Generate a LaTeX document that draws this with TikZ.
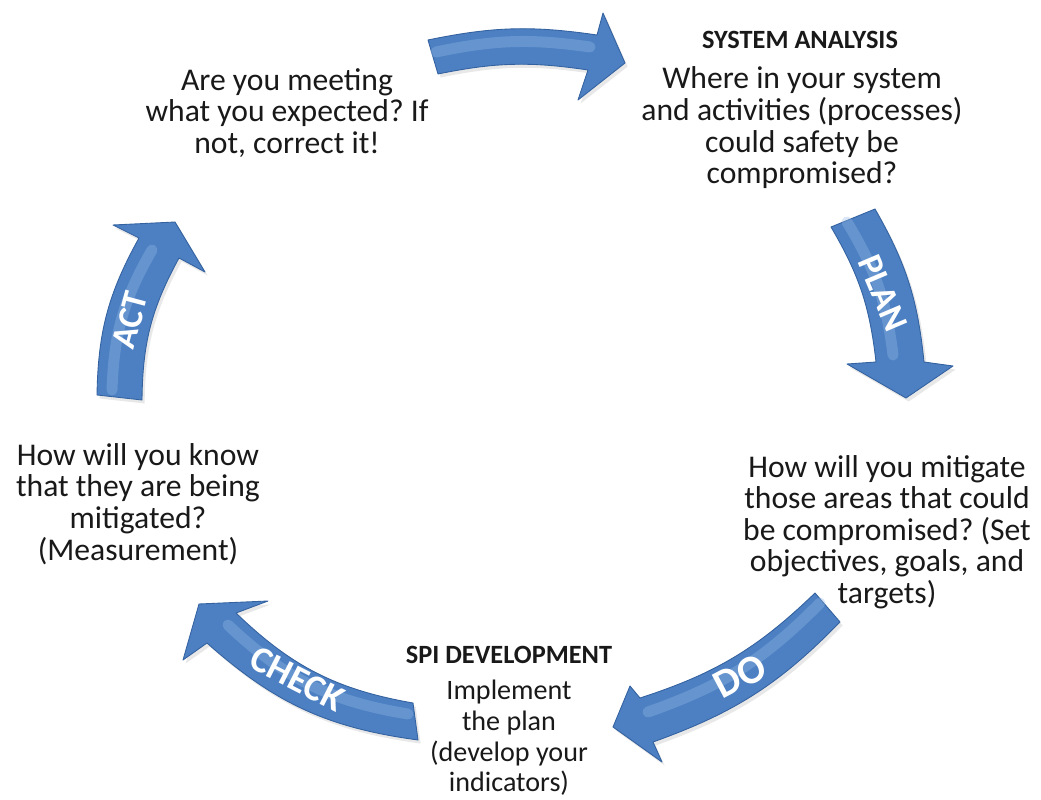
\documentclass[tikz,border=0pt]{standalone}
\usepackage{fontspec}
\setmainfont{Carlito}
\usetikzlibrary{shadows}
\frenchspacing
\definecolor{arrowmid}{RGB}{76,128,194}
\definecolor{arrowdark}{RGB}{52,98,160}
\definecolor{arrowlight}{RGB}{150,186,230}
\definecolor{txt}{RGB}{25,25,25}
\tikzset{
  blockarrow/.style={fill=arrowmid, draw=arrowdark, line width=0.5pt, line join=round,
    drop shadow={opacity=0.18, shadow xshift=1.5pt, shadow yshift=-2pt}},
  gloss/.style={draw=arrowlight, line width=0.22cm, opacity=0.35, line cap=round},
  arrowlabel/.style={text=white, font=\fontsize{20}{20}\selectfont\bfseries, inner sep=0pt},
  body/.style={text=txt, align=center, font=\fontsize{18}{18}\selectfont, inner sep=0pt},
  bodysmall/.style={text=txt, align=center, font=\fontsize{16}{17.5}\selectfont, inner sep=0pt},
  heading/.style={text=txt, font=\fontsize{15}{15}\selectfont\bfseries, inner sep=0pt}
}
\begin{document}
\begin{tikzpicture}[x=0.02cm,y=0.02cm]
\useasboundingbox (0,0) rectangle (1041,-800);
\fill[white] (0,0) rectangle (1041,-800);

% top arrow (ACT -> PLAN)
\path[blockarrow] (428,-40) to[bend left=10] (597,-35) -- (603,-13) -- (625,-63) -- (578,-100) -- (588,-70) to[bend right=10] (438,-74) -- cycle;
\path[gloss] (436,-52) to[bend left=10] (590,-47);

% PLAN arrow
\path[blockarrow] (875,-209) to[bend left=12] (924,-362) -- (953,-366) -- (906,-398) -- (847,-364) -- (876,-362) to[bend right=12] (831,-227) -- cycle;
\path[gloss] (847,-222) to[bend left=12] (893,-355);
\node[arrowlabel, rotate=-67] (plan) at (883,-293) {PLAN};

% DO arrow
\path[blockarrow] (840,-622) to[bend left=13] (653,-742) -- (662,-762) -- (613,-727) -- (630,-686) -- (640,-698) to[bend right=13] (815,-593) -- cycle;
\path[gloss] (820,-603) to[bend left=13] (648,-712);
\node[arrowlabel, font=\fontsize{23}{23}\selectfont\bfseries, rotate=28] (do) at (740,-676) {DO};

% CHECK arrow
\path[blockarrow] (418,-740) to[bend left=17] (207,-643) -- (183,-660) -- (199,-604) -- (268,-601) -- (236,-613) to[bend right=17] (413,-703) -- cycle;
\path[gloss] (408,-714) to[bend left=17] (228,-625);
\node[arrowlabel, font=\fontsize{21}{21}\selectfont\bfseries, rotate=-27] (check) at (297,-679) {CHECK};

% ACT arrow
\path[blockarrow] (97,-395) to[bend left=14] (139,-238) -- (113,-225) -- (175,-222) -- (205,-272) -- (179,-258) to[bend right=14] (142,-400) -- cycle;
\path[gloss] (112,-390) to[bend left=14] (152,-250);
\node[arrowlabel, rotate=75] (act) at (130,-320) {ACT};

% texts
\node[heading] (sa) at (800,-40) {SYSTEM ANALYSIS};
\node[body] (where) at (802,-128) {Where in your system\\and activities (processes)\\could safety be\\compromised?};
\node[body] (meet) at (287,-113) {Are you meeting\\what you expected? If\\not, correct it!};
\node[body] (miti) at (887,-532) {How will you mitigate\\those areas that could\\be compromised? (Set\\objectives, goals, and\\targets)};
\node[body] (know) at (138,-504) {How will you know\\that they are being\\mitigated?\\(Measurement)};
\node[heading] (spi) at (509,-655) {SPI DEVELOPMENT};
\node[bodysmall] (impl) at (509,-738) {Implement\\the plan\\(develop your\\indicators)};
\end{tikzpicture}
\end{document}
